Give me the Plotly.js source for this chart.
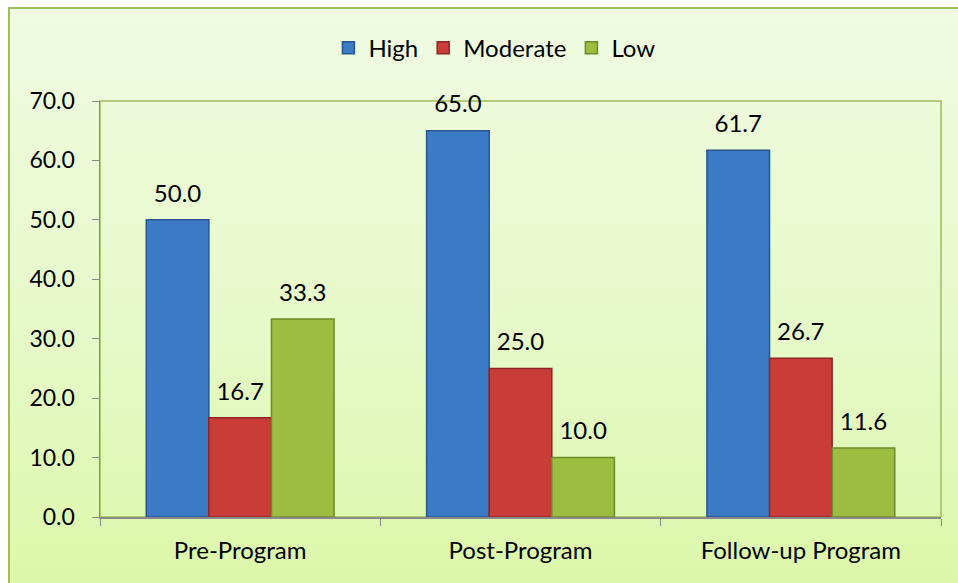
<!DOCTYPE html>
<html>
<head>
<meta charset="utf-8">
<script src="https://cdn.plot.ly/plotly-3.0.1.min.js"></script>
<style>
  html, body { margin: 0; padding: 0; background: #ffffff; }
  #frame {
    position: absolute; left: 8px; top: 7px; width: 970px; height: 600px;
    border: 2px solid #9cbf5a;
    background: linear-gradient(to bottom, #f0fbe2 0%, #e6f9c8 55%, #dbf7a6 100%);
  }
  #chart { position: absolute; left: 0; top: 0; width: 958px; height: 583px; }
</style>
</head>
<body>
<div id="frame"></div>
<div id="chart"></div>
<script>
const categories = ["Pre-Program", "Post-Program", "Follow-up Program"];
const seriesNames = ["High", "Moderate", "Low"];
const highValues = [50.0, 65.0, 61.7];
const moderateValues = [16.7, 25.0, 26.7];
const lowValues = [33.3, 10.0, 11.6];
const yTickValues = [0, 10, 20, 30, 40, 50, 60, 70];

const fills = ["#3b7bc6", "#c93c38", "#9cbd40"];
const edges = ["#285690", "#8e2624", "#6c8a28"];
const allValues = [highValues, moderateValues, lowValues];

const FONT = "Lato, 'Open Sans', sans-serif";

const barTraces = allValues.map((vals, i) => ({
  type: "bar",
  name: seriesNames[i],
  x: categories,
  y: vals,
  offsetgroup: String(i),
  marker: { color: fills[i], line: { color: edges[i], width: 1.5 } },
  hoverinfo: "x+y+name"
}));

const labelTraces = allValues.map((vals, i) => ({
  type: "scatter",
  mode: "markers+text",
  name: seriesNames[i] + " label",
  x: categories,
  y: vals,
  offsetgroup: String(i),
  marker: { size: 18, color: "rgba(0,0,0,0)" },
  text: vals.map(v => v.toFixed(1)),
  textposition: "top center",
  textfont: { family: FONT, size: 24, color: "#000000" },
  cliponaxis: false,
  showlegend: false,
  hoverinfo: "skip"
}));

const layout = {
  width: 958,
  height: 583,
  paper_bgcolor: "rgba(0,0,0,0)",
  plot_bgcolor: "rgba(0,0,0,0)",
  margin: { l: 100, r: 17, t: 101, b: 66 },
  barmode: "group",
  bargap: 0.33,
  bargroupgap: 0,
  scattermode: "group",
  scattergap: 0.33,
  font: { family: FONT, size: 24, color: "#000000" },
  showlegend: true,
  legend: {
    orientation: "h",
    x: 0.469, xanchor: "center",
    y: 1.127, yanchor: "middle",
    font: { family: FONT, size: 24, color: "#000000" },
    bgcolor: "rgba(0,0,0,0)"
  },
  xaxis: {
    type: "category",
    showline: true, linecolor: "#8a8a8a", linewidth: 1.5,
    ticks: "outside", tickson: "boundaries", ticklen: 7, tickcolor: "#8a8a8a",
    ticklabelstandoff: 12,
    showgrid: false, zeroline: false,
    tickfont: { family: FONT, size: 24, color: "#000000" }
  },
  yaxis: {
    range: [0, 70],
    tickvals: yTickValues,
    tickformat: ".1f",
    showline: true, linecolor: "#8a8a8a", linewidth: 1.5,
    ticks: "outside", ticklen: 7, tickcolor: "#8a8a8a",
    ticklabelstandoff: 12,
    showgrid: false, zeroline: false,
    tickfont: { family: FONT, size: 23, color: "#000000" }
  },
  shapes: [{
    type: "rect", xref: "paper", yref: "paper",
    x0: 0, x1: 1, y0: 0, y1: 1,
    line: { color: "#9cbf5a", width: 1.5 },
    fillcolor: "rgba(0,0,0,0)",
    layer: "below"
  }]
};

Plotly.newPlot("chart", barTraces.concat(labelTraces), layout, { displayModeBar: false, staticPlot: true });
</script>
</body>
</html>
